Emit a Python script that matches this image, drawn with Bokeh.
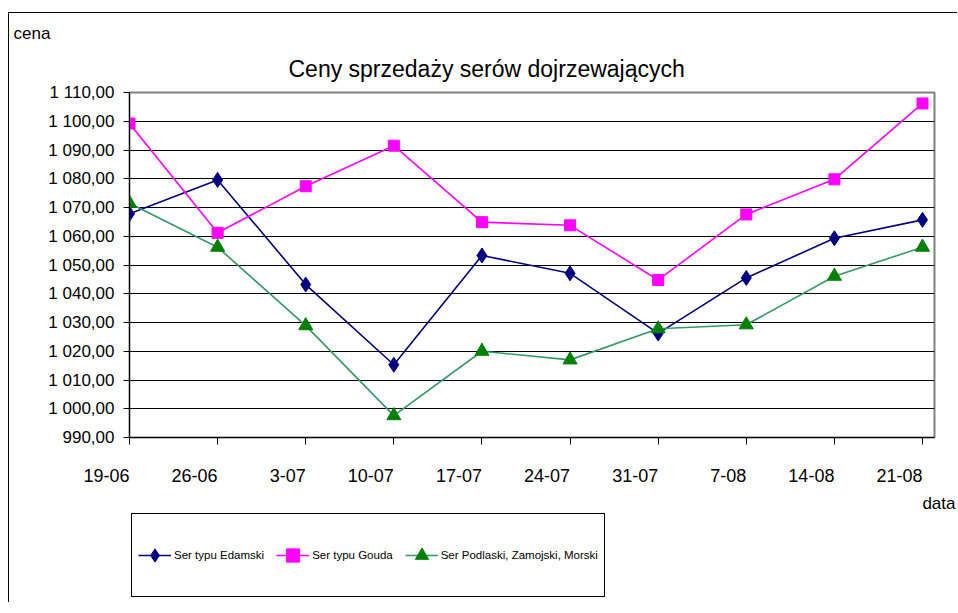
from bokeh.plotting import figure
from bokeh.layouts import column
from bokeh.models import (Range1d, FixedTicker, Title, ColumnDataSource,
                          Legend, LegendItem)
from bokeh.embed import file_html
from bokeh.resources import INLINE

# ---- data ----
dates = ["19-06", "26-06", "3-07", "10-07", "17-07", "24-07", "31-07", "7-08", "14-08", "21-08"]
edamski = [1067.8, 1079.6, 1043.2, 1015.3, 1053.3, 1047.1, 1026.2, 1045.5, 1059.3, 1065.7]
gouda = [1099.2, 1061.2, 1077.4, 1091.5, 1064.9, 1063.8, 1044.8, 1067.6, 1079.8, 1106.2]
podlaski = [1071.5, 1056.2, 1028.9, 997.6, 1020.0, 1017.0, 1027.8, 1029.2, 1046.1, 1056.2]
series_names = ["Ser typu Edamski", "Ser typu Gouda", "Ser Podlaski, Zamojski, Morski"]
y_ticks = [990, 1000, 1010, 1020, 1030, 1040, 1050, 1060, 1070, 1080, 1090, 1100, 1110]
y_tick_labels = ["990,00", "1 000,00", "1 010,00", "1 020,00", "1 030,00", "1 040,00",
                 "1 050,00", "1 060,00", "1 070,00", "1 080,00", "1 090,00", "1 100,00",
                 "1 110,00"]
title_text = "Ceny sprzedaży serów dojrzewających"
y_title = "cena"
x_title = "data"

FONT = "Liberation Sans"
idx = list(range(len(dates)))

p = figure(width=None, height=None, frame_width=805, frame_height=345,
           x_range=Range1d(0, 9.136), y_range=Range1d(990, 1110),
           output_backend="svg", toolbar_location=None,
           min_border_left=120, min_border_right=23,
           min_border_top=79, min_border_bottom=4,
           background_fill_color="white", border_fill_color="white",
           outline_line_color="#808080", outline_line_width=2)

# outermost title row: "cena" at the far left
p.title.text = y_title
p.title.align = "left"
p.title.offset = -116
p.title.text_font = FONT
p.title.text_font_size = "17px"
p.title.text_font_style = "normal"
p.title.text_color = "black"
p.title.standoff = 0

# chart title
p.add_layout(Title(text=title_text, align="left", offset=159, text_font=FONT,
                   text_font_size="23px", text_font_style="normal",
                   text_color="black", standoff=22), "above")

# grid
p.xgrid.visible = False
p.ygrid.grid_line_color = "black"
p.ygrid.grid_line_width = 1

# y axis
p.yaxis.ticker = FixedTicker(ticks=y_ticks)
p.yaxis.major_label_overrides = dict(zip(y_ticks, y_tick_labels))
p.yaxis.axis_line_color = "black"
p.yaxis.major_tick_line_color = "black"
p.yaxis.major_tick_out = 6
p.yaxis.major_tick_in = 0
p.yaxis.minor_tick_line_color = None
p.yaxis.major_label_text_font = FONT
p.yaxis.major_label_text_font_size = "17px"
p.yaxis.major_label_text_color = "black"
p.yaxis.major_label_standoff = 9

# x axis: labels end at their tick marks, as in the original
p.xaxis.ticker = FixedTicker(ticks=idx)
p.xaxis.major_label_overrides = dict(zip(idx, dates))
p.xaxis.major_label_orientation = 0.0001
p.xaxis.major_label_text_font = FONT
p.xaxis.major_label_text_font_size = "18px"
p.xaxis.major_label_text_color = "black"
p.xaxis.major_label_standoff = 31
p.xaxis.axis_line_color = "black"
p.xaxis.major_tick_line_color = "black"
p.xaxis.major_tick_out = 7
p.xaxis.major_tick_in = 0
p.xaxis.minor_tick_line_color = None

# "data" at the right, below the x labels
p.add_layout(Title(text=x_title, align="right", offset=-21, text_font=FONT,
                   text_font_size="17px", text_font_style="normal",
                   text_color="black", standoff=0), "below")

# series
styles = [
    (edamski, "#000080", "#000080", "diamond", 15),
    (gouda, "#FF00FF", "#FF00FF", "square", 11),
    (podlaski, "#339966", "#008000", "triangle", 14),
]

# legend strip below the chart (its own canvas so nothing is clipped)
p2 = figure(width=948, height=90, x_range=Range1d(0, 1), y_range=Range1d(0, 1),
            x_axis_type=None, y_axis_type=None,
            output_backend="svg", toolbar_location=None,
            min_border_left=120, min_border_right=23,
            min_border_top=0, min_border_bottom=4,
            outline_line_color=None,
            background_fill_color="white", border_fill_color="white")

items = []
for name, (vals, lc, mc, mk, sz) in zip(series_names, styles):
    src = ColumnDataSource(dict(x=idx, y=vals))
    p.line("x", "y", source=src, line_color=lc, line_width=1.6)
    p.scatter("x", "y", source=src, marker=mk, size=sz, fill_color=mc, line_color=mc)
    # same series in the legend strip (outside its visible range, only used for the key)
    lr = p2.line("x", "y", source=src, line_color=lc, line_width=1.6)
    sr = p2.scatter("x", "y", source=src, marker=mk, size=sz, fill_color=mc, line_color=mc)
    items.append(LegendItem(label=name, renderers=[lr, sr]))

legend = Legend(items=items, orientation="horizontal", location=(2, 1),
                border_line_color="black", border_line_width=1, border_line_alpha=1,
                padding=6, spacing=12, margin=0,
                glyph_width=33, glyph_height=70, label_height=70, label_standoff=3,
                label_text_font=FONT, label_text_font_size="11.5px",
                label_text_color="black",
                background_fill_color="white", background_fill_alpha=1)
p2.add_layout(legend)

layout = column(p, p2, spacing=0)
layout.styles = {"border-left": "1px solid black", "border-top": "1px solid black",
                 "margin-left": "8px", "margin-top": "12px"}

open("out.html", "w").write(file_html(layout, INLINE))
